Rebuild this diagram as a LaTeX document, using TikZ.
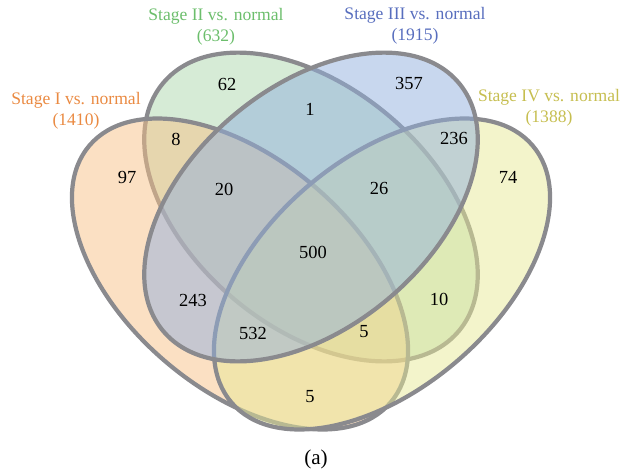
\documentclass[tikz,border=0pt]{standalone}
\usepackage{fontspec}
\setmainfont{Liberation Serif}

\definecolor{setI}{RGB}{247,193,135}
\definecolor{setII}{RGB}{173,215,173}
\definecolor{setIII}{RGB}{145,175,221}
\definecolor{setIV}{RGB}{231,233,151}
\definecolor{edgegray}{RGB}{138,138,142}
\definecolor{textI}{RGB}{234,138,66}
\definecolor{textII}{RGB}{108,190,108}
\definecolor{textIII}{RGB}{88,110,190}
\definecolor{textIV}{RGB}{198,190,80}

\begin{document}
\begin{tikzpicture}[
    x=0.02cm, y=-0.02cm,
    set/.style={draw=edgegray, line width=2.4pt, fill opacity=0.5},
    count/.style={font=\fontsize{10.5}{12}\selectfont, inner sep=1pt},
    title/.style={align=center, font=\fontsize{10}{12}\selectfont, inner sep=1pt}
]
\useasboundingbox (0,0) rectangle (623,474);

% the four sets
\filldraw[set, fill=setII, rotate around={-40:(311,207)}] (311,207) ellipse (3.86cm and 2.40cm);
\filldraw[set, fill=setI, rotate around={-40.5:(240,274)}] (240,274) ellipse (3.96cm and 2.30cm);
\filldraw[set, fill=setIV, rotate around={40.5:(382,274)}] (382,274) ellipse (3.96cm and 2.30cm);
\filldraw[set, fill=setIII, rotate around={40:(311,207)}] (311,207) ellipse (3.86cm and 2.40cm);

% set titles
\node[title, text=textI] (tI) at (76,111) {Stage I vs. normal\\(1410)};
\node[title, text=textII] (tII) at (216,27) {Stage II vs. normal\\(632)};
\node[title, text=textIII] (tIII) at (415,26) {Stage III vs. normal\\(1915)};
\node[title, text=textIV] (tIV) at (549,108) {Stage IV vs. normal\\(1388)};

% region counts
\node[count] (onlyI) at (127,177) {97};
\node[count] (onlyII) at (227,84) {62};
\node[count] (onlyIII) at (409,83) {357};
\node[count] (onlyIV) at (508,177) {74};
\node[count] (I-II) at (176,139) {8};
\node[count] (II-III) at (310,109) {1};
\node[count] (III-IV) at (454,138) {236};
\node[count] (I-II-III) at (224,189) {20};
\node[count] (II-III-IV) at (379,188) {26};
\node[count] (all) at (313,252) {500};
\node[count] (I-III) at (193,300) {243};
\node[count] (II-IV) at (439,299) {10};
\node[count] (I-III-IV) at (253,333) {532};
\node[count] (I-II-IV) at (364,332) {5};
\node[count] (I-IV) at (310,397) {5};

\node[count, font=\fontsize{12}{14}\selectfont] (caption) at (316,459) {(a)};
\end{tikzpicture}
\end{document}
